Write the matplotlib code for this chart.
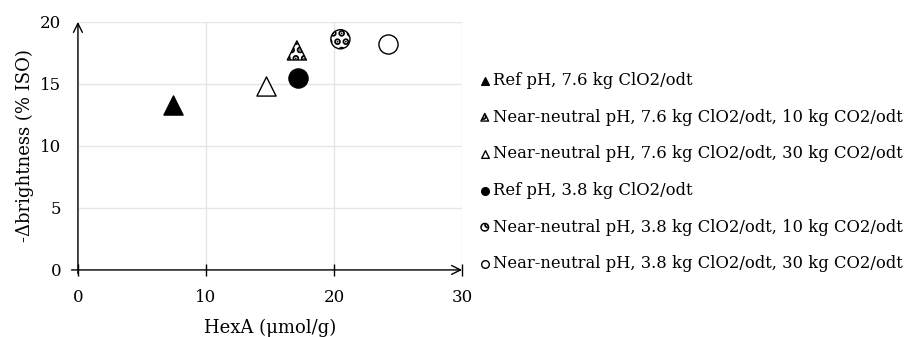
import matplotlib.pyplot as plt

plt.rcParams["font.family"] = ["DejaVu Serif"]
plt.rcParams["hatch.linewidth"] = 3.5

# Series.
labels = [
    "Ref pH, 7.6 kg ClO2/odt",
    "Near-neutral pH, 7.6 kg ClO2/odt, 10 kg CO2/odt",
    "Near-neutral pH, 7.6 kg ClO2/odt, 30 kg CO2/odt",
    "Ref pH, 3.8 kg ClO2/odt",
    "Near-neutral pH, 3.8 kg ClO2/odt, 10 kg CO2/odt",
    "Near-neutral pH, 3.8 kg ClO2/odt, 30 kg CO2/odt",
]
hexa = [7.4, 17.1, 14.7, 17.2, 20.5, 24.2]
brightness = [13.3, 17.7, 14.8, 15.45, 18.6, 18.2]
markers = ["^", "^", "^", "o", "o", "o"]
faces = ["black", "white", "white", "black", "white", "white"]
hatches = [None, "..", None, None, "..", None]

fig = plt.figure(figsize=(9.06, 3.37), dpi=100)
ax = fig.add_axes([0.086, 0.199, 0.424, 0.736])

for x, y, lab, m, fc, h in zip(hexa, brightness, labels, markers, faces, hatches):
    ax.scatter([x], [y], s=190, marker=m, facecolor=fc, edgecolor="black",
               linewidth=1.0, hatch=h, label=lab, zorder=3)

ax.set_xlim(0, 30)
ax.set_ylim(0, 20)
ax.set_xticks([0, 10, 20, 30])
ax.set_yticks([0, 5, 10, 15, 20])
ax.grid(True, color="#e6e6e6", linewidth=1.0, zorder=0)
ax.set_axisbelow(True)

for side in ["top", "right", "left", "bottom"]:
    ax.spines[side].set_visible(False)

# axis lines with open arrowheads
ax.annotate("", xy=(30, 0), xytext=(-0.5, 0), xycoords="data",
            arrowprops=dict(arrowstyle="->", color="black", lw=1.0,
                            shrinkA=0, shrinkB=0, mutation_scale=16),
            annotation_clip=False)
ax.annotate("", xy=(0, 20), xytext=(0, -0.3), xycoords="data",
            arrowprops=dict(arrowstyle="->", color="black", lw=1.0,
                            shrinkA=0, shrinkB=0, mutation_scale=16),
            annotation_clip=False)

ax.tick_params(axis="x", direction="inout", length=8, width=1.0, pad=10,
               labelsize=12)
ax.tick_params(axis="y", length=0, pad=12, labelsize=12)

ax.set_xlabel("HexA (μmol/g)", fontsize=13, labelpad=9)
ax.set_ylabel("-Δbrightness (% ISO)", fontsize=13, labelpad=4)

leg = ax.legend(loc="upper left", bbox_to_anchor=(1.025, 0.825), frameon=False,
                fontsize=11.8, markerscale=0.4, handletextpad=0.1,
                labelspacing=1.2, borderaxespad=0, handlelength=0.8)

fig.savefig("out.png", dpi=100)
